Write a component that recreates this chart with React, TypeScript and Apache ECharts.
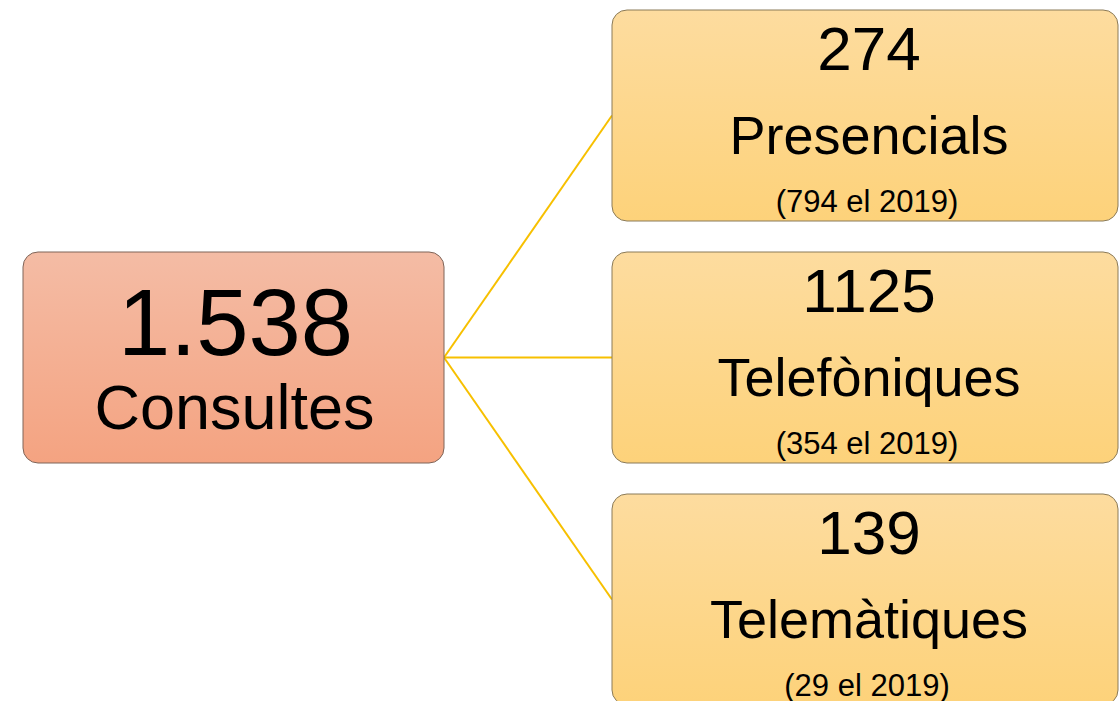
import React, { useEffect, useRef } from "react";
import * as echarts from "echarts";

const totalValue = "1.538";
const totalLabel = "Consultes";
const categories = ["Presencials", "Telefòniques", "Telemàtiques"];
const values = ["274", "1125", "139"];
const previous = ["(794 el 2019)", "(354 el 2019)", "(29 el 2019)"];

const FONT = "Liberation Sans, Arial, sans-serif";

export default function App() {
  const ref = useRef<HTMLDivElement>(null);
  useEffect(() => {
    if (!ref.current) return;
    const chart = echarts.init(ref.current, null, { renderer: "svg" });
    const left = { x: 23, y: 252, w: 421, h: 211 };
    const rightX = 612;
    const rightW = 506;
    const boxH = 211;
    const tops = [10, 252, 494];
    const elements: any[] = [];
    const lineColor = "#F7C000";
    categories.forEach((_, i) => {
      elements.push({
        type: "line",
        shape: { x1: left.x + left.w, y1: left.y + left.h / 2, x2: rightX, y2: tops[i] + boxH / 2 },
        style: { stroke: lineColor, lineWidth: 2 },
        z: 1,
      });
    });
    elements.push({
      type: "rect",
      shape: { x: left.x, y: left.y, width: left.w, height: left.h, r: 15 },
      style: {
        fill: new echarts.graphic.LinearGradient(0, 0, 0, 1, [
          { offset: 0, color: "#F4BCA5" },
          { offset: 1, color: "#F4A381" },
        ]),
        stroke: "#7E6458",
        lineWidth: 1,
      },
      z: 2,
    });
    elements.push({
      type: "text",
      style: { text: totalValue, x: left.x + left.w / 2 + 2, y: 322, font: `94px ${FONT}`, fill: "#000", align: "center", verticalAlign: "middle" },
      z: 3,
    });
    elements.push({
      type: "text",
      style: { text: totalLabel, x: left.x + left.w / 2 + 1, y: 407, font: `63px ${FONT}`, fill: "#000", align: "center", verticalAlign: "middle" },
      z: 3,
    });
    categories.forEach((cat, i) => {
      const t = tops[i];
      const cx = rightX + rightW / 2 + 4;
      elements.push({
        type: "rect",
        shape: { x: rightX, y: t, width: rightW, height: boxH, r: 15 },
        style: {
          fill: new echarts.graphic.LinearGradient(0, 0, 0, 1, [
            { offset: 0, color: "#FDDC9F" },
            { offset: 1, color: "#FDD27A" },
          ]),
          stroke: "#8A7A58",
          lineWidth: 1,
        },
        z: 2,
      });
      elements.push({
        type: "text",
        style: { text: values[i], x: cx, y: t + 38, font: `62px ${FONT}`, fill: "#000", align: "center", verticalAlign: "middle" },
        z: 3,
      });
      elements.push({
        type: "text",
        style: { text: cat, x: cx, y: t + 125, font: `54px ${FONT}`, fill: "#000", align: "center", verticalAlign: "middle" },
        z: 3,
      });
      elements.push({
        type: "text",
        style: { text: previous[i], x: cx - 2, y: t + 191, font: `31px ${FONT}`, fill: "#000", align: "center", verticalAlign: "middle" },
        z: 3,
      });
    });
    chart.setOption({
      animation: false,
      backgroundColor: "#FFFFFF",
      graphic: { elements },
    });
    return () => chart.dispose();
  }, []);
  return (
    <div
      ref={ref}
      style={{ position: "fixed", left: 0, top: 0, width: 1120, height: 701 }}
    />
  );
}
